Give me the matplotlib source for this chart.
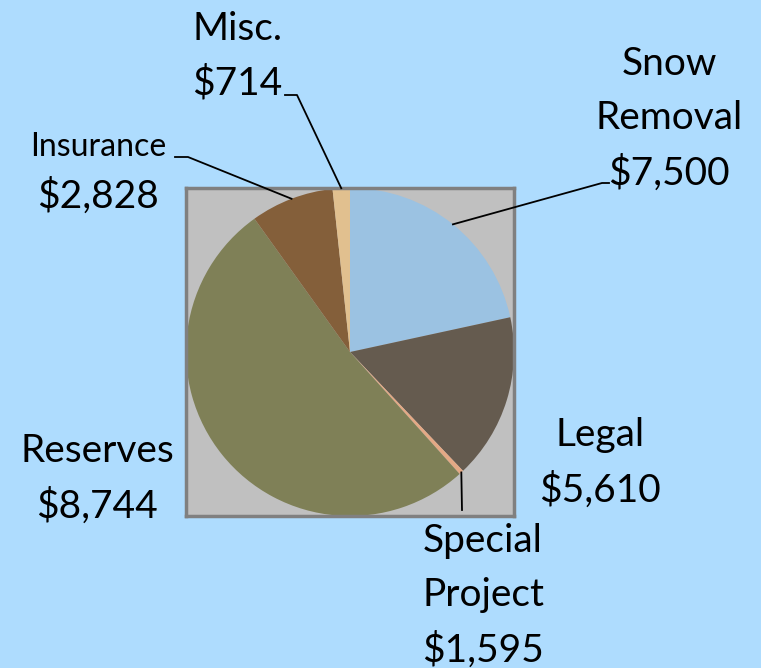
import numpy as np
import matplotlib.pyplot as plt

# slice shares as drawn, labels carry the printed amounts
categories = ['Snow\nRemoval', 'Legal', 'Special\nProject', 'Reserves', 'Insurance', 'Misc.']
amounts = ['$7,500', '$5,610', '$1,595', '$8,744', '$2,828', '$714']
shares = [21.6, 16.3, 0.45, 51.75, 8.2, 1.7]
colors = ['#9BC2E2', '#655B4F', '#E4A985', '#7F8057', '#845F3A', '#E1C08F']

W, H = 761, 668
bg = '#AEDCFE'
plt.rcParams['font.family'] = ['Lato', 'DejaVu Sans']

fig = plt.figure(figsize=(W / 100, H / 100), dpi=100, facecolor=bg)
ax = fig.add_axes([186 / W, 1 - 516 / H, 328 / W, 328 / H])

wedges, _ = ax.pie(shares, colors=colors, startangle=90, counterclock=False,
                   radius=1, frame=True, wedgeprops=dict(linewidth=0))
ax.set_facecolor('#C0C0C0')
for s in ax.spines.values():
    s.set_visible(True)
    s.set_color('#808080')
    s.set_linewidth(2.5)
ax.set_xticks([]); ax.set_yticks([])
ax.set_xlim(-1, 1); ax.set_ylim(-1, 1)
ax.set_aspect('auto')

cx, cy, r = 350, 352, 164  # pie centre / radius in pixels


def px(x, y):
    return (x - cx) / r, (cy - y) / r


def leader(w, pts):
    a = np.deg2rad((w.theta1 + w.theta2) / 2)
    xs = [np.cos(a)] + [px(*p)[0] for p in pts]
    ys = [np.sin(a)] + [px(*p)[1] for p in pts]
    ax.plot(xs, ys, color='black', lw=1.3, clip_on=False, zorder=5)


leader(wedges[0], [(602, 183), (609, 183)])
leader(wedges[5], [(297, 95), (285, 95)])
leader(wedges[4], [(188, 157), (175, 157)])
leader(wedges[2], [(462, 510)])


def label(x, y, s, size=28, ha='center'):
    fig.text(x / W, 1 - y / H, s, fontsize=size, ha=ha, va='center',
             linespacing=1.62, color='black')


label(669, 119, categories[0] + '\n' + amounts[0])
label(600, 463, categories[1] + '\n' + amounts[1])
label(483, 596, categories[2] + '\n' + amounts[2])
label(97, 479, categories[3] + '\n' + amounts[3])
label(98, 147, categories[4], size=23)
label(98, 196, amounts[4])
label(237, 56, categories[5] + '\n' + amounts[5])

fig.savefig('out.png', dpi=100, facecolor=bg)
